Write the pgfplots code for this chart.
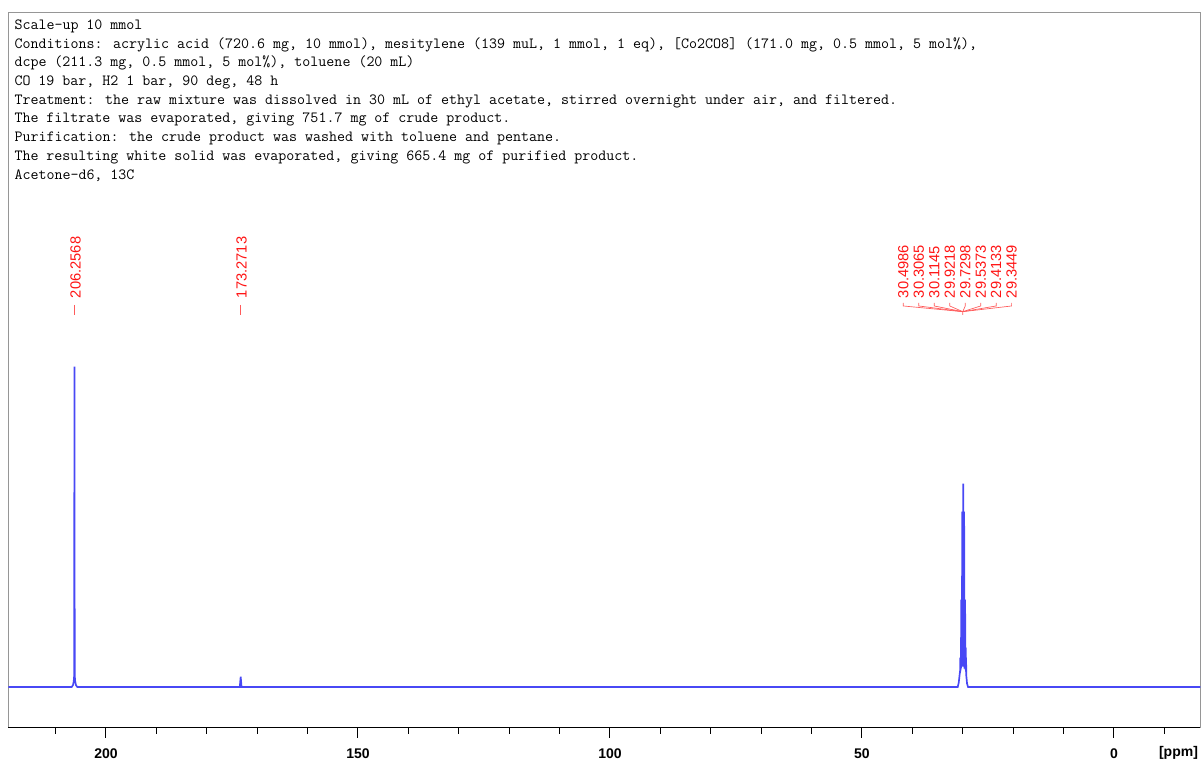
\documentclass[border=0pt]{standalone}
\usepackage{pgfplots}
\pgfplotsset{compat=1.18}
\usepackage{fontspec}
\setmainfont{Liberation Sans}
\definecolor{specblue}{RGB}{72,72,245}
\definecolor{framegray}{RGB}{150,150,150}
\definecolor{lblred}{RGB}{255,20,20}
\begin{document}
\begin{tikzpicture}
\begin{axis}[
  scale only axis,
  width=894pt, height=536.55pt,
  x dir=reverse,
  xmin=-17.12, xmax=219.39,
  ymin=0, ymax=715.4,
  clip=false,
  axis line style={draw=framegray, line width=0.75pt},
  ytick=\empty,
  xtick={0,50,100,150,200},
  minor xtick={-10,10,20,30,40,60,70,80,90,110,120,130,140,160,170,180,190,210},
  xtick pos=bottom,
  tick align=outside,
  major tick length=7.5pt,
  minor tick length=4.5pt,
  tick style={black, line width=0.75pt},
  /pgf/number format/assume math mode=true,
  xticklabel style={font=\bfseries\fontsize{10.5}{12}\selectfont, inner sep=0pt, anchor=north, yshift=-7.9pt},
]
\addplot[specblue, line width=1.25pt] coordinates {
(219.39,40.7) (206.8,40.7) (206.55,42.5) (206.4,46) (206.31,52)
(206.2568,361) (206.2,52) (206.1,46) (205.95,42.5) (205.7,40.7)
(173.45,40.7) (173.2713,51) (173.1,40.7)
(31.0,40.7) (30.8,45) (30.6,54) (30.53,57) (30.4986,70) (30.44,58)
(30.36,60) (30.3065,128) (30.25,62) (30.17,62) (30.1145,216) (30.06,62)
(29.98,62) (29.9218,244) (29.86,62) (29.78,62) (29.7298,216) (29.67,60)
(29.59,60) (29.5373,128) (29.48,58) (29.4133,80) (29.38,56) (29.3449,70)
(29.3,52) (29.15,44) (28.95,40.7) (-17.12,40.7)
};
% bottom axis line in black
\draw[black, line width=0.75pt] (rel axis cs:0,0) -- (rel axis cs:1,0);
% header text
\begin{scope}[every node/.style={anchor=base west, inner sep=0pt, font=\ttfamily\fontsize{11.65}{13}\selectfont}]
\node at (axis cs:218.2,698.2) {Scale-up 10 mmol};
\node at (axis cs:218.2,679.5) {Conditions: acrylic acid (720.6 mg, 10 mmol), mesitylene (139 muL, 1 mmol, 1 eq), [Co2CO8] (171.0 mg, 0.5 mmol, 5 mol\%),};
\node at (axis cs:218.2,660.8) {dcpe (211.3 mg, 0.5 mmol, 5 mol\%), toluene (20 mL)};
\node at (axis cs:218.2,642.1) {CO 19 bar, H2 1 bar, 90 deg, 48 h};
\node at (axis cs:218.2,623.4) {Treatment: the raw mixture was dissolved in 30 mL of ethyl acetate, stirred overnight under air, and filtered.};
\node at (axis cs:218.2,604.7) {The filtrate was evaporated, giving 751.7 mg of crude product.};
\node at (axis cs:218.2,586.0) {Purification: the crude product was washed with toluene and pentane.};
\node at (axis cs:218.2,567.3) {The resulting white solid was evaporated, giving 665.4 mg of purified product.};
\node at (axis cs:218.2,548.6) {Acetone-d6, 13C};
\end{scope}
% peak labels
\begin{scope}[every node/.style={anchor=west, rotate=90, inner sep=0pt, text=lblred, font=\fontsize{11}{12}\selectfont}]
\node at (axis cs:206.05,429.4) {206.2568};
\node at (axis cs:173.1,429.4) {173.2713};
\node at (axis cs:41.81,429.4) {30.4986};
\node at (axis cs:38.73,429.4) {30.3065};
\node at (axis cs:35.66,429.4) {30.1145};
\node at (axis cs:32.59,429.4) {29.9218};
\node at (axis cs:29.51,429.4) {29.7298};
\node at (axis cs:26.44,429.4) {29.5373};
\node at (axis cs:23.37,429.4) {29.4133};
\node at (axis cs:20.30,429.4) {29.3449};
\end{scope}
\begin{scope}[lblred!70, line width=0.5pt]
\draw (axis cs:206.2568,422.7) -- (axis cs:206.2568,412.7);
\draw (axis cs:173.2713,422.7) -- (axis cs:173.2713,412.7);
\draw (axis cs:41.81,424.7) -- (axis cs:41.81,421.7) -- (axis cs:30.0,416) -- (axis cs:30.0,412.7);
\draw (axis cs:38.73,424.7) -- (axis cs:38.73,421.7) -- (axis cs:30.0,416);
\draw (axis cs:35.66,424.7) -- (axis cs:35.66,421.7) -- (axis cs:30.0,416);
\draw (axis cs:32.59,424.7) -- (axis cs:32.59,421.7) -- (axis cs:30.0,416);
\draw (axis cs:29.51,424.7) -- (axis cs:29.51,421.7) -- (axis cs:30.0,416);
\draw (axis cs:26.44,424.7) -- (axis cs:26.44,421.7) -- (axis cs:30.0,416);
\draw (axis cs:23.37,424.7) -- (axis cs:23.37,421.7) -- (axis cs:30.0,416);
\draw (axis cs:20.30,424.7) -- (axis cs:20.30,421.7) -- (axis cs:30.0,416);
\end{scope}
\node[anchor=base, inner sep=0pt, font=\bfseries\fontsize{10.5}{12}\selectfont] at (axis cs:-12.8,-28.6) {[ppm]};
\end{axis}
\pgfresetboundingbox
\path (current axis.south west) ++(-6.2pt,-25.7pt) coordinate (bbsw);
\path (current axis.north east) ++(2.8pt,9.2pt) coordinate (bbne);
\path[use as bounding box] (bbsw) rectangle (bbne);
\end{tikzpicture}
\end{document}
